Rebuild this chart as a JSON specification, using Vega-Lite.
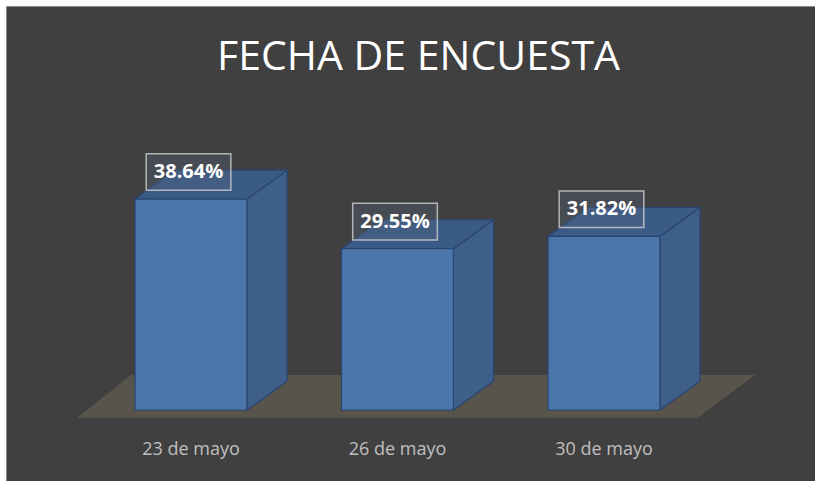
{
  "$schema": "https://vega.github.io/schema/vega-lite/v6.json",
  "width": 809,
  "height": 475,
  "autosize": {"type": "none"},
  "padding": {"left": 6, "top": 6, "right": 0, "bottom": 0},
  "background": "#ffffff",
  "view": {"fill": "#404040", "stroke": "#8a8a8a", "strokeWidth": 1},
  "title": {
    "text": "FECHA DE ENCUESTA",
    "font": "Open Sans",
    "fontSize": 41,
    "fontWeight": "normal",
    "color": "#ffffff",
    "anchor": "middle",
    "dx": 8,
    "offset": -73
  },
  "datasets": {
    "encuesta": [
      {"fecha": "23 de mayo", "valor": 38.64},
      {"fecha": "26 de mayo", "valor": 29.55},
      {"fecha": "30 de mayo", "valor": 31.82}
    ]
  },
  "data": {"name": "encuesta"},
  "transform": [
    {"window": [{"op": "row_number", "as": "rn"}]},
    {"calculate": "datum.rn - 1", "as": "i"}
  ],
  "layer": [
    {
      "transform": [
        {"aggregate": [{"op": "count", "as": "n"}]},
        {"calculate": "[-0.552, -0.291, datum.n - 0.548, datum.n - 0.267]", "as": "fx"},
        {"calculate": "[-1.47, -1.47, -1.47, 6.4]", "as": "fy"},
        {"calculate": "[-1.47, 6.4, 6.4, 6.4]", "as": "fy2"},
        {"flatten": ["fx", "fy", "fy2"]}
      ],
      "mark": {"type": "area", "fill": "#58544c", "opacity": 1},
      "encoding": {
        "x": {"field": "fx", "type": "quantitative", "scale": {"domain": [-0.896, 3.022], "nice": false, "zero": false}, "axis": null},
        "y": {"field": "fy", "type": "quantitative", "scale": {"domain": [-13, 74], "nice": false, "zero": false}, "axis": null},
        "y2": {"field": "fy2"}
      }
    },
    {
      "transform": [
        {"calculate": "[datum.i + 0.271, datum.i + 0.465]", "as": "sx"},
        {"calculate": "[0, 5.3]", "as": "sy"},
        {"calculate": "[datum.valor, datum.valor + 5.3]", "as": "sy2"},
        {"flatten": ["sx", "sy", "sy2"]}
      ],
      "mark": {"type": "area", "fill": "#3e5f8a", "stroke": "#284670", "strokeWidth": 1.2, "fillOpacity": 1},
      "encoding": {
        "x": {"field": "sx", "type": "quantitative"},
        "y": {"field": "sy", "type": "quantitative"},
        "y2": {"field": "sy2"},
        "detail": {"field": "fecha", "type": "nominal"}
      }
    },
    {
      "transform": [
        {"calculate": "[datum.i - 0.271, datum.i - 0.077, datum.i + 0.271, datum.i + 0.465]", "as": "tx"},
        {"calculate": "[datum.valor, datum.valor, datum.valor, datum.valor + 5.3]", "as": "ty"},
        {"calculate": "[datum.valor, datum.valor + 5.3, datum.valor + 5.3, datum.valor + 5.3]", "as": "ty2"},
        {"flatten": ["tx", "ty", "ty2"]}
      ],
      "mark": {"type": "area", "fill": "#3b5b87", "stroke": "#284670", "strokeWidth": 1.2, "fillOpacity": 1},
      "encoding": {
        "x": {"field": "tx", "type": "quantitative"},
        "y": {"field": "ty", "type": "quantitative"},
        "y2": {"field": "ty2"},
        "detail": {"field": "fecha", "type": "nominal"}
      }
    },
    {
      "transform": [
        {"calculate": "datum.i - 0.271", "as": "x1"},
        {"calculate": "datum.i + 0.271", "as": "x2"},
        {"calculate": "0", "as": "base"}
      ],
      "mark": {"type": "rect", "fill": "#4a76ab", "stroke": "#284670", "strokeWidth": 1.2},
      "encoding": {
        "x": {"field": "x1", "type": "quantitative"},
        "x2": {"field": "x2"},
        "y": {"field": "valor", "type": "quantitative"},
        "y2": {"field": "base"}
      }
    },
    {
      "transform": [
        {"calculate": "datum.i - 0.217", "as": "bx1"},
        {"calculate": "datum.i + 0.193", "as": "bx2"},
        {"calculate": "datum.valor + 1.6", "as": "by1"},
        {"calculate": "datum.valor + 8.3", "as": "by2"}
      ],
      "mark": {"type": "rect", "fill": "#55637a", "fillOpacity": 0.35, "stroke": "#d0d0d0", "strokeOpacity": 0.8, "strokeWidth": 1.5},
      "encoding": {
        "x": {"field": "bx1", "type": "quantitative"},
        "x2": {"field": "bx2"},
        "y": {"field": "by1", "type": "quantitative"},
        "y2": {"field": "by2"}
      }
    },
    {
      "transform": [
        {"calculate": "datum.i - 0.012", "as": "lx"},
        {"calculate": "datum.valor + 4.95", "as": "ly"},
        {"calculate": "format(datum.valor, '.2f') + '%'", "as": "lab"}
      ],
      "mark": {"type": "text", "font": "Open Sans", "fontSize": 20, "fontWeight": "bold", "color": "#ffffff", "align": "center", "baseline": "middle"},
      "encoding": {
        "x": {"field": "lx", "type": "quantitative"},
        "y": {"field": "ly", "type": "quantitative"},
        "text": {"field": "lab", "type": "nominal"}
      }
    },
    {
      "transform": [
        {"calculate": "-7.3", "as": "lyy"}
      ],
      "mark": {"type": "text", "font": "Open Sans", "fontSize": 18, "color": "#bfbfbf", "align": "center", "baseline": "middle"},
      "encoding": {
        "x": {"field": "i", "type": "quantitative"},
        "y": {"field": "lyy", "type": "quantitative"},
        "text": {"field": "fecha", "type": "nominal"}
      }
    }
  ]
}
